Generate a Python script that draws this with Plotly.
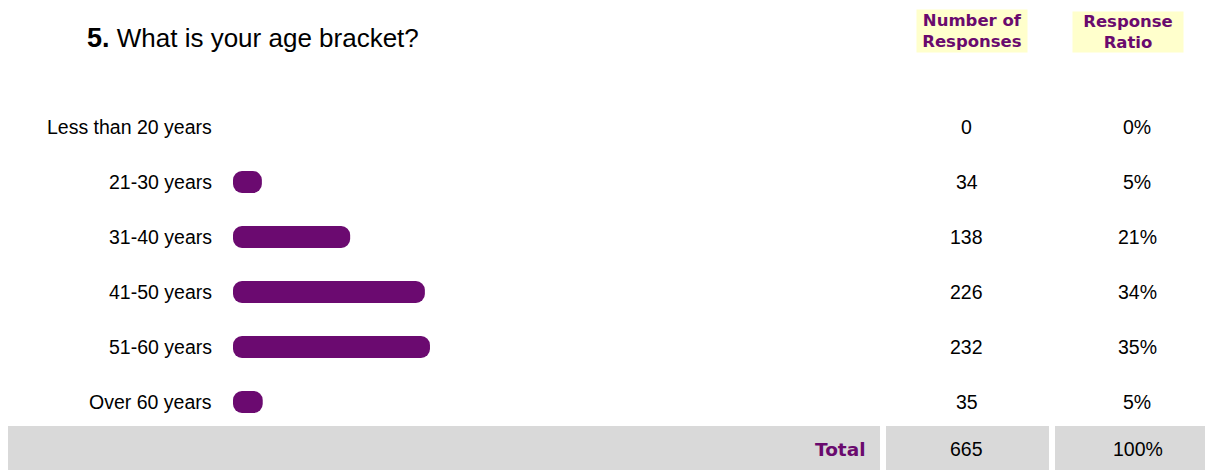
import plotly.graph_objects as go

categories = ["Less than 20 years", "21-30 years", "31-40 years", "41-50 years", "51-60 years", "Over 60 years"]
responses = [0, 34, 138, 226, 232, 35]
ratios = ["0%", "5%", "21%", "34%", "35%", "5%"]
total_count = 665
total_ratio = "100%"
question_no = "5."
question = "What is your age bracket?"

WIN_W, WIN_H = 1213, 470
OFF = 8  # default page margin around the plot div
W, H = WIN_W - OFF, WIN_H - OFF

PX_PER_UNIT = 0.849
BAR_LEFT = 233
ROW0 = 127
ROW_STEP = 55
BAR_H = 22


def px(xp):
    return (xp - OFF) / W


def py(yp):
    return 1 - (yp - OFF) / H


purple = "#6b0a70"
hdr_purple = "#6a0a6e"
idx = list(range(len(categories)))

fig = go.Figure()
fig.add_trace(go.Bar(
    x=responses, y=idx, orientation="h", base=0,
    marker=dict(color=purple, line=dict(width=0), cornerradius=9),
    hoverinfo="skip", showlegend=False,
))

x0 = -(BAR_LEFT - OFF) / PX_PER_UNIT
x1 = (WIN_W - BAR_LEFT) / PX_PER_UNIT
y_top = -(ROW0 - OFF) / ROW_STEP
y_bot = (WIN_H - ROW0) / ROW_STEP

ann = []
body_font = dict(family="Liberation Sans, Arial", size=19.5, color="#000000")
for i, (c, n, r) in enumerate(zip(categories, responses, ratios)):
    ann.append(dict(x=0, y=i, xref="x", yref="y", text=c, showarrow=False,
                    xanchor="right", yanchor="middle", xshift=-19, font=body_font))
    ann.append(dict(x=px(967), y=i, xref="paper", yref="y", text=str(n), showarrow=False,
                    xanchor="center", yanchor="middle", font=body_font))
    ann.append(dict(x=px(1137), y=i, xref="paper", yref="y", text=r, showarrow=False,
                    xanchor="center", yanchor="middle", font=body_font))

# title
ann.append(dict(x=px(85), y=py(38), xref="paper", yref="paper", showarrow=False,
                xanchor="left", yanchor="middle",
                text="<b><span style='font-size:27px'>" + question_no + "</span></b> " + question,
                font=dict(family="Liberation Sans, Arial", size=26, color="#000000")))

# headers
hdr_font = dict(family="DejaVu Sans", size=16.5, color=hdr_purple)
ann.append(dict(x=px(971.5), y=py(31.5), xref="paper", yref="paper", showarrow=False,
                xanchor="center", yanchor="middle", text="<b>Number of<br>Responses</b>",
                font=hdr_font, bgcolor="#FFFFCC", width=108, height=40, align="center"))
ann.append(dict(x=px(1127.5), y=py(32.5), xref="paper", yref="paper", showarrow=False,
                xanchor="center", yanchor="middle", text="<b>Response<br>Ratio</b>",
                font=hdr_font, bgcolor="#FFFFCC", width=108, height=38, align="center"))

# total row
ty = py(449)
ann.append(dict(x=px(868), y=ty, xref="paper", yref="paper", showarrow=False,
                xanchor="right", yanchor="middle", text="<b>Total</b>",
                font=dict(family="DejaVu Sans", size=18.5, color=hdr_purple)))
ann.append(dict(x=px(966.5), y=ty, xref="paper", yref="paper", showarrow=False,
                xanchor="center", yanchor="middle", text=str(total_count), font=body_font))
ann.append(dict(x=px(1137.5), y=ty, xref="paper", yref="paper", showarrow=False,
                xanchor="center", yanchor="middle", text=total_ratio, font=body_font))

shapes = []
for a, b in [(7, 880), (886, 1049), (1055, 1213)]:
    shapes.append(dict(type="rect", xref="paper", yref="paper", x0=max(px(a), 0), x1=px(b),
                       y0=py(470), y1=py(426), fillcolor="#D9D9D9",
                       line=dict(width=0), layer="below"))

fig.update_layout(
    width=W, height=H, margin=dict(l=0, r=0, t=0, b=0),
    paper_bgcolor="white", plot_bgcolor="white",
    xaxis=dict(range=[x0, x1], visible=False, fixedrange=True),
    yaxis=dict(range=[y_bot, y_top], visible=False, fixedrange=True),
    bargap=1 - BAR_H / ROW_STEP,
    annotations=ann, shapes=shapes,
)
fig.write_html("out.html")
